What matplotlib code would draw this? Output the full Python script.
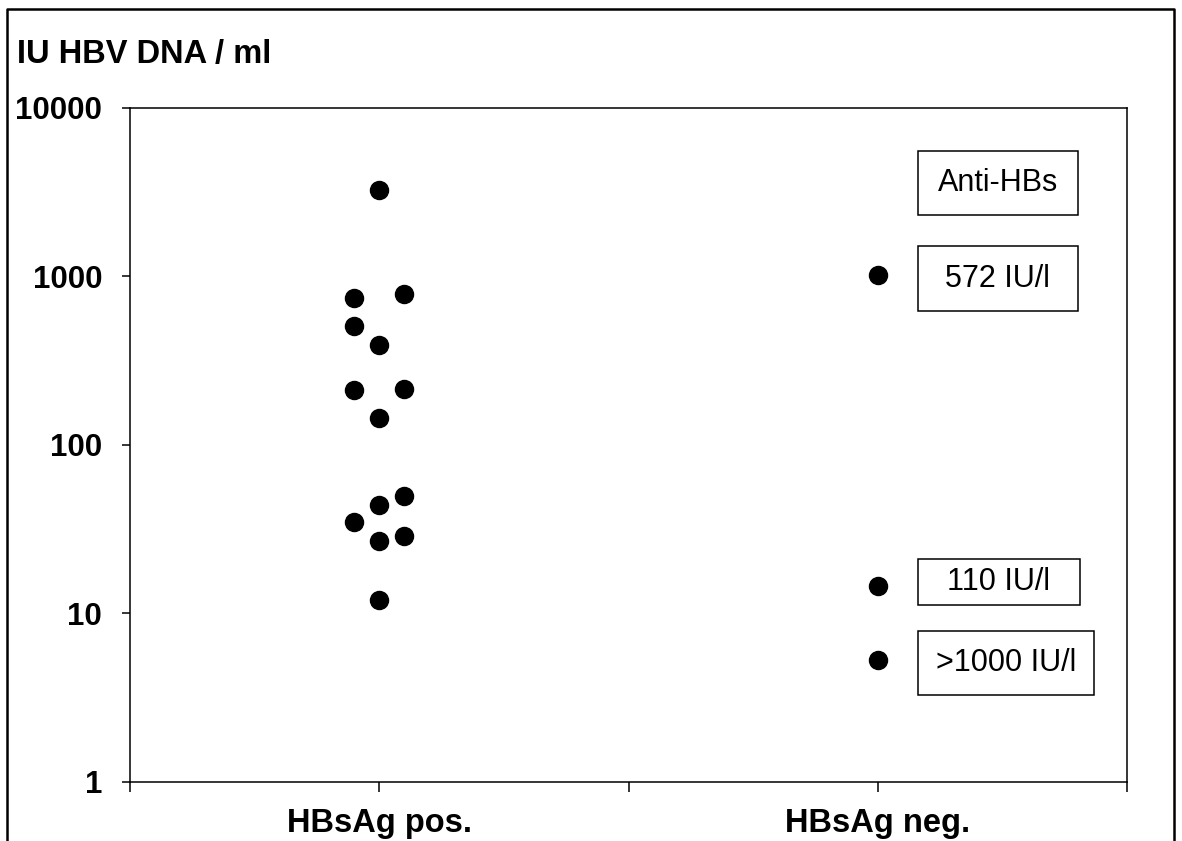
import matplotlib
matplotlib.use("Agg")
import matplotlib.pyplot as plt
from matplotlib.patches import Rectangle

plt.rcParams['font.family'] = ['Liberation Sans', 'DejaVu Sans']

# HBsAg positive group: x offsets (0.9 / 1.0 / 1.1) and IU HBV DNA / ml
pos_x = [1.0, 0.9, 1.1, 0.9, 1.0, 0.9, 1.1, 1.0, 1.1, 1.0, 0.9, 1.0, 1.1, 1.0]
pos_y = [3260, 745, 787, 508, 392, 212, 215, 144, 50, 44, 35, 27, 29, 12]

# HBsAg negative group
neg_x = [3.0, 3.0, 3.0]
neg_y = [1020, 14.6, 5.3]

categories = ['HBsAg pos.', 'HBsAg neg.']
yticks = [1, 10, 100, 1000, 10000]

# annotation boxes (axes fraction: x0, y0, x1, y1)
box_labels = ['Anti-HBs', '572 IU/l', '110 IU/l', '>1000 IU/l']
box_pos = [(0.790, 0.841, 0.951, 0.936),
           (0.790, 0.699, 0.951, 0.795),
           (0.790, 0.263, 0.953, 0.331),
           (0.790, 0.129, 0.967, 0.224)]

fig = plt.figure(figsize=(11.82, 8.41), dpi=100)
ax = fig.add_axes([0.110, 0.0702, 0.8435, 0.8014])

ax.plot(pos_x, pos_y, 'o', color='black', markersize=13, linestyle='none')
ax.plot(neg_x, neg_y, 'o', color='black', markersize=13, linestyle='none')

ax.set_yscale('log')
ax.set_ylim(1, 10000)
ax.set_xlim(0, 4)
ax.set_yticks(yticks)
ax.set_yticklabels([str(v) for v in yticks], fontsize=22.5, fontweight='bold')
ax.minorticks_off()
ax.set_xticks([0, 1, 2, 3, 4])
ax.set_xticklabels(['', categories[0], '', categories[1], ''], fontsize=23.5, fontweight='bold')
ax.tick_params(axis='y', direction='out', length=6, width=1.1, pad=14)
ax.tick_params(axis='x', direction='out', length=7, width=1.1, pad=12)
for s in ax.spines.values():
    s.set_linewidth(1.1)

for lab, (x0, y0, x1, y1) in zip(box_labels, box_pos):
    ax.add_patch(Rectangle((x0, y0), x1 - x0, y1 - y0, transform=ax.transAxes,
                           fill=False, edgecolor='black', linewidth=1.1))
    ax.text((x0 + x1) / 2, (y0 + y1) / 2, lab, transform=ax.transAxes,
            ha='center', va='center', fontsize=22)

fig.text(0.0144, 0.935, 'IU HBV DNA / ml', fontsize=23.5, fontweight='bold',
         ha='left', va='center')

# outer frame (open at the bottom)
fig.add_artist(plt.Line2D([0.006, 0.006, 0.993, 0.993], [0.0, 0.989, 0.989, 0.0],
                          transform=fig.transFigure, color='black', linewidth=1.8))

fig.savefig('out.png', dpi=100)
